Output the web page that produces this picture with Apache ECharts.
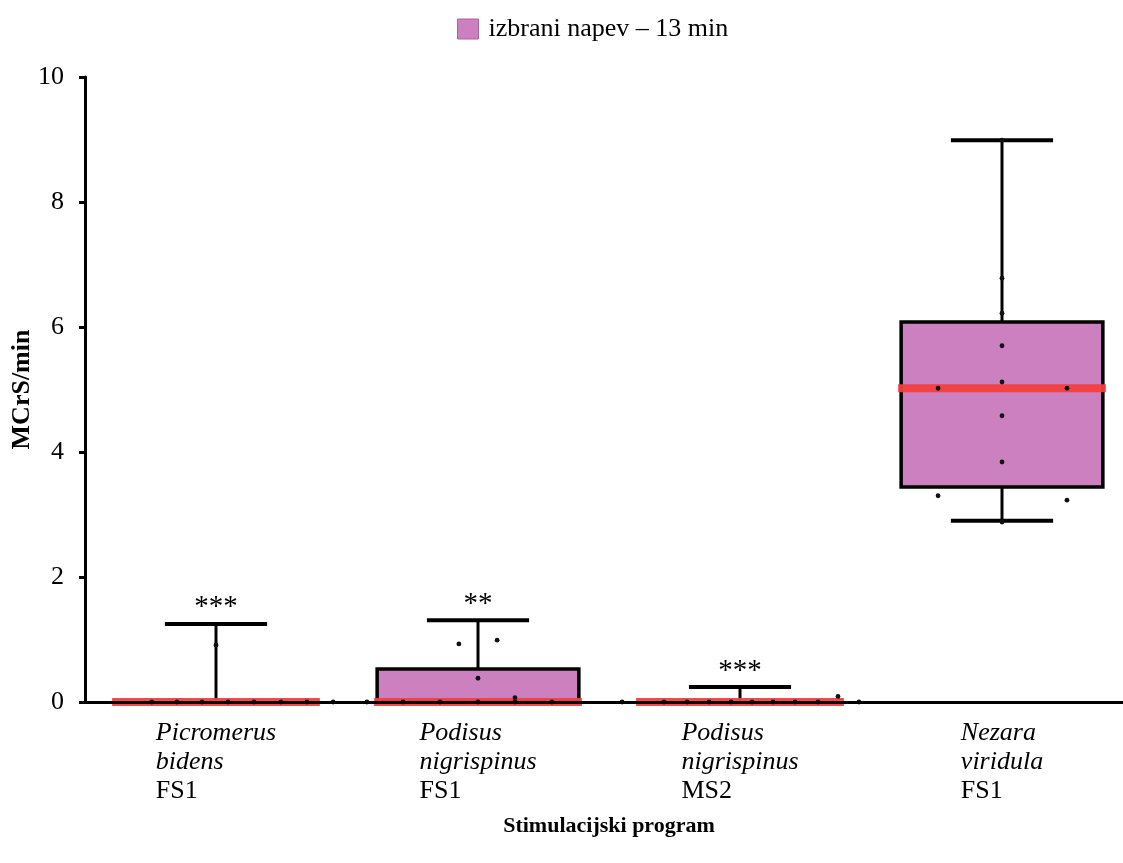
<!DOCTYPE html>
<html>
<head>
<meta charset="utf-8">
<script src="https://cdn.jsdelivr.net/npm/echarts@6/dist/echarts.min.js"></script>
<style>html,body{margin:0;padding:0;background:#fff}#c{width:1123px;height:863px}</style>
</head>
<body>
<div id="c"></div>
<script>
// ---- data ----
var genus = ['Picromerus', 'Podisus', 'Podisus', 'Nezara'];
var species = ['bidens', 'nigrispinus', 'nigrispinus', 'viridula'];
var programs = ['FS1', 'FS1', 'MS2', 'FS1'];
var whiskerLow = [0, 0, 0, 2.9];
var q1 = [0, 0, 0, 3.44];
var median = [0, 0, 0, 5.02];
var q3 = [0, 0.53, 0, 6.08];
var whiskerHigh = [1.25, 1.31, 0.24, 8.99];
var significance = ['***', '**', '***', ''];
var seriesName = 'izbrani napev \u2013 13 min';
var yTicks = [0, 2, 4, 6, 8, 10];
// individual observations: category index and value
var pointCat = [0,0,0,0,0,0,0,0,0,
                1,1,1,1,1,1,1,1,1,1,
                2,2,2,2,2,2,2,2,2,2,2,
                3,3,3,3,3,3,3,3,3,3,3,3];
var pointVal = [0,0,0,0,0,0,0,0,0.91,
                0,0,0,0,0,0,0.07,0.38,0.93,0.99,
                0,0,0,0,0,0,0,0,0,0,0.09,
                6.78,6.22,5.70,5.12,5.02,5.02,4.58,3.84,3.30,3.23,2.88,8.99];
// ---- layout (horizontal jitter as fraction of category band) ----
var pointJitter = [-0.245,-0.149,-0.053,0.046,0.145,0.248,0.347,0.447,0,
                   -0.424,-0.286,-0.145,0,0.141,0.282,0.141,0,-0.073,0.073,
                   -0.45,-0.29,-0.202,-0.118,-0.034,0.046,0.126,0.21,0.298,0.454,0.374,
                   0,0,0,0,-0.244,0.248,0,0,-0.244,0.248,0,0];

var FONT = '"Liberation Serif", "Times New Roman", serif';
var boxData = genus.map(function (g, i) {
  return [i, whiskerLow[i], q1[i], median[i], q3[i], whiskerHigh[i]];
});
var pointData = pointVal.map(function (v, i) { return [pointCat[i], v, pointJitter[i]]; });

var chart = echarts.init(document.getElementById('c'), null, {renderer: 'canvas'});
chart.setOption({
  animation: false,
  color: ['#cc80bf'],
  legend: {
    data: [seriesName], left: 457, top: 16, padding: 0, icon: 'rect', itemWidth: 21, itemHeight: 20,
    itemStyle: {color: '#cc80bf', borderColor: '#a8649c', borderWidth: 1},
    textStyle: {fontFamily: FONT, fontSize: 26, color: '#000', padding: [0, 0, 0, 5]}
  },
  grid: {left: 85, top: 77, width: 1048, bottom: 161, containLabel: false, outerBoundsMode: 'none'},
  xAxis: {
    type: 'category', data: genus, z: 10,
    name: 'Stimulacijski program', nameLocation: 'middle', nameGap: 113,
    nameTextStyle: {fontFamily: FONT, fontSize: 22, fontWeight: 'bold', color: '#000'},
    axisLine: {lineStyle: {color: '#000', width: 3}},
    axisTick: {alignWithLabel: true, length: 7, lineStyle: {color: '#000', width: 2}},
    axisLabel: {
      interval: 0, margin: 17, align: 'center',
      formatter: function (v, i) {
        return '{i|' + genus[i] + '}\n{i|' + species[i] + '}\n{n|' + programs[i] + '}';
      },
      rich: {
        i: {fontFamily: FONT, fontSize: 26, fontStyle: 'italic', color: '#000', lineHeight: 29, align: 'left'},
        n: {fontFamily: FONT, fontSize: 26, color: '#000', lineHeight: 29, align: 'left'}
      }
    },
    splitLine: {show: false}
  },
  yAxis: {
    type: 'value', min: 0, max: 10, interval: 2,
    name: 'MCrS/min', nameLocation: 'middle', nameGap: 50, nameMoveOverlap: false,
    nameTextStyle: {fontFamily: FONT, fontSize: 26, fontWeight: 'bold', color: '#000'},
    axisLine: {show: true, lineStyle: {color: '#000', width: 3}},
    axisTick: {show: true, length: 6, lineStyle: {color: '#000', width: 3}},
    axisLabel: {fontFamily: FONT, fontSize: 26, color: '#000', margin: 21,
      formatter: function (v) { return yTicks.indexOf(v) >= 0 ? String(v) : ''; }},
    splitLine: {show: false}
  },
  series: [
    {
      name: seriesName, type: 'custom', z: 3,
      itemStyle: {color: '#cc80bf'},
      encode: {x: 0, y: [1, 2, 3, 4, 5]},
      data: boxData,
      renderItem: function (params, api) {
        var idx = api.value(0);
        var band = api.size([1, 0])[0];
        var boxW = band * 0.77, capW = band * 0.39;
        var pLow = api.coord([idx, api.value(1)]);
        var pQ1 = api.coord([idx, api.value(2)]);
        var pMed = api.coord([idx, api.value(3)]);
        var pQ3 = api.coord([idx, api.value(4)]);
        var pHigh = api.coord([idx, api.value(5)]);
        var cx = pMed[0];
        var black = {stroke: '#000', lineWidth: 3};
        var ch = [];
        ch.push({type: 'line', shape: {x1: cx, y1: pQ3[1], x2: cx, y2: pHigh[1]}, style: black});
        ch.push({type: 'line', shape: {x1: cx - capW / 2, y1: pHigh[1], x2: cx + capW / 2, y2: pHigh[1]}, style: {stroke: '#000', lineWidth: 4}});
        if (api.value(1) !== api.value(2)) {
          ch.push({type: 'line', shape: {x1: cx, y1: pQ1[1], x2: cx, y2: pLow[1]}, style: black});
          ch.push({type: 'line', shape: {x1: cx - capW / 2, y1: pLow[1], x2: cx + capW / 2, y2: pLow[1]}, style: {stroke: '#000', lineWidth: 4}});
        }
        if (api.value(4) !== api.value(2)) {
          ch.push({type: 'rect', shape: {x: cx - boxW / 2, y: pQ3[1], width: boxW, height: pQ1[1] - pQ3[1]},
            style: {fill: '#cc80bf', stroke: '#000', lineWidth: 3.5}});
        }
        ch.push({type: 'line', shape: {x1: cx - boxW / 2 - 3, y1: pMed[1], x2: cx + boxW / 2 + 3, y2: pMed[1]},
          style: {stroke: 'rgba(244,62,62,0.95)', lineWidth: 8}});
        var star = significance[idx];
        if (star) {
          ch.push({type: 'text', x: cx, y: pHigh[1] - 16,
            style: {text: star, fontFamily: FONT, fontSize: 29, fill: '#000', align: 'center', verticalAlign: 'middle'}});
        }
        return {type: 'group', children: ch};
      }
    },
    {
      name: 'points', type: 'custom', z: 4, silent: true,
      encode: {x: 0, y: 1},
      data: pointData,
      renderItem: function (params, api) {
        var band = api.size([1, 0])[0];
        var p = api.coord([api.value(0), api.value(1)]);
        return {type: 'circle', shape: {cx: p[0] + api.value(2) * band, cy: p[1], r: 2.4},
          style: {fill: '#111'}};
      }
    }
  ]
});
</script>
</body>
</html>
